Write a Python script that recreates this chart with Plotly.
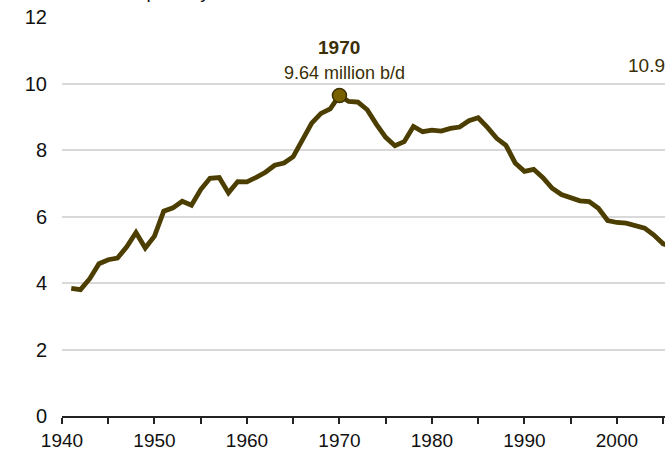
import plotly.graph_objects as go

years = list(range(1941, 2007))
production = [3.84, 3.80, 4.13, 4.58, 4.70, 4.75, 5.09, 5.52, 5.05, 5.41,
              6.16, 6.26, 6.46, 6.34, 6.81, 7.15, 7.17, 6.71, 7.05, 7.04,
              7.18, 7.33, 7.54, 7.61, 7.80, 8.30, 8.81, 9.10, 9.24, 9.64,
              9.46, 9.44, 9.21, 8.77, 8.38, 8.13, 8.25, 8.71, 8.55, 8.60,
              8.57, 8.65, 8.69, 8.88, 8.97, 8.68, 8.35, 8.14, 7.61, 7.36,
              7.42, 7.17, 6.85, 6.66, 6.56, 6.47, 6.45, 6.25, 5.88, 5.82,
              5.80, 5.74, 5.65, 5.44, 5.18, 5.09]
peak_year = 1970
peak_value = 9.64
x_tickvals = list(range(1940, 2010, 5))
x_ticktext = [str(v) if v % 10 == 0 else "" for v in x_tickvals]
y_tickvals = [0, 2, 4, 6, 8, 10, 12]

line_color = "#4b3e00"
text_color = "#3a2f05"
FONT = "Liberation Sans, Arial, sans-serif"

fig = go.Figure()
fig.add_trace(go.Scatter(x=years, y=production, mode="lines",
                         line=dict(color=line_color, width=4.8),
                         hoverinfo="skip", showlegend=False))
fig.add_trace(go.Scatter(x=[peak_year], y=[peak_value], mode="markers",
                         marker=dict(size=14, color="#7a6100",
                                     line=dict(color="#3d3200", width=1.5)),
                         hoverinfo="skip", showlegend=False))

fig.update_layout(
    width=665, height=457,
    margin=dict(l=62, r=0, t=17, b=41),
    paper_bgcolor="white", plot_bgcolor="white",
    font=dict(family=FONT, color="#111111"),
    xaxis=dict(range=[1940, 2005.2], tickvals=x_tickvals, ticktext=x_ticktext,
               showgrid=False, showline=True, linecolor="#222222", linewidth=1.5,
               ticks="outside", ticklen=6, tickwidth=1.5, tickcolor="#222222",
               tickfont=dict(size=19, family=FONT), automargin=False,
               zeroline=False),
    yaxis=dict(range=[0, 12], tickvals=y_tickvals, showgrid=True,
               gridcolor="#d9d9d9", gridwidth=1.5, zeroline=False,
               showline=False, ticks="", automargin=False,
               ticklabelstandoff=14,
               tickfont=dict(size=20, family=FONT)),
)

def py(p):
    return (416 - p) / 399

fig.add_annotation(x=peak_year, y=py(47), xref="x", yref="paper", yanchor="middle",
                   text="<b>1970</b>", showarrow=False,
                   font=dict(size=19, color=text_color, family=FONT))
fig.add_annotation(x=peak_year, y=py(73), xref="x", yref="paper", yanchor="middle",
                   xshift=5, text="9.64 million b/d", showarrow=False,
                   font=dict(size=18, color=text_color, family=FONT))
fig.add_annotation(x=(626 - 62) / 603, y=py(65), xref="paper", yref="paper",
                   xanchor="left", yanchor="middle",
                   text="10.96 million b/d", showarrow=False,
                   font=dict(size=19, color=text_color, family=FONT))
fig.add_annotation(x=(212 - 62) / 603, y=1, xref="paper", yref="paper",
                   xanchor="right", yanchor="bottom", yshift=13,
                   text="million barrels per day", showarrow=False,
                   font=dict(size=19, color="#111111", family=FONT))

fig.write_html("out.html", config={"displayModeBar": False},
               post_script="document.body.style.margin='0';")
